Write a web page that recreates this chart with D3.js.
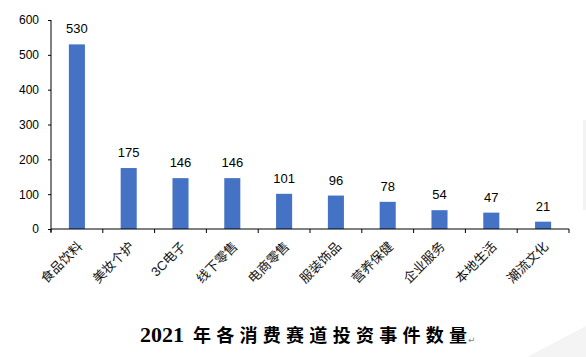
<!DOCTYPE html>
<html><head><meta charset="utf-8">
<script src="https://cdn.jsdelivr.net/npm/d3@7"></script>
<style>html,body{margin:0;padding:0;background:#fff;}svg{display:block;}</style>
</head><body>
<svg id="chart" width="586" height="357"></svg>
<script>
const categories = ["食品饮料","美妆个护","3C电子","线下零售","电商零售","服装饰品","营养保健","企业服务","本地生活","潮流文化"];
const values = [530,175,146,146,101,96,78,54,47,21];
const yTicks = [0,100,200,300,400,500,600];
const titleYear = "2021";
const titleText = "年各消费赛道投资事件数量";

const svg = d3.select("#chart");
svg.append("rect").attr("width",586).attr("height",357).attr("fill","#fff");
// faint page artifacts
svg.append("polygon").attr("points","527,357 586,326 586,357").attr("fill","#f4f4f4");
svg.append("rect").attr("x",583).attr("y",120).attr("width",3).attr("height",90).attr("fill","#f3f3f3");

const mLeft = 51, mRight = 569, mTop = 20, mBottom = 229;
const x = d3.scaleBand().domain(categories).range([mLeft, mRight]).paddingInner(0.69).paddingOuter(0.345);
const y = d3.scaleLinear().domain([0,600]).range([mBottom, mTop]);

// bars
svg.append("g").selectAll("rect").data(values).join("rect")
  .attr("x",(d,i)=>x(categories[i]))
  .attr("y",d=>y(d))
  .attr("width",x.bandwidth())
  .attr("height",d=>y(0)-y(d))
  .attr("fill","#4472C4");

// value labels
svg.append("g").selectAll("text").data(values).join("text")
  .attr("x",(d,i)=>x(categories[i])+x.bandwidth()/2)
  .attr("y",d=>y(d)-11)
  .attr("text-anchor","middle")
  .attr("font-family","'Liberation Sans', Arial, sans-serif")
  .attr("font-size",13)
  .attr("fill","#000")
  .text(d=>d);

// y axis
const ya = svg.append("g").attr("transform",`translate(${mLeft},0)`)
  .call(d3.axisLeft(y).tickValues(yTicks).tickSize(3).tickPadding(9).tickSizeOuter(0));
ya.select(".domain").attr("stroke","#000").attr("d",`M0,${mTop}V${mBottom+3}`);
ya.selectAll(".tick line").attr("stroke","#000");
ya.selectAll("text").attr("font-family","'Liberation Sans', Arial, sans-serif").attr("font-size",12).attr("fill","#000");

// x axis line and boundary ticks
const step = x.step();
const bounds = d3.range(categories.length+1).map(i=>x.range()[0]+i*step);
svg.append("line").attr("x1",mLeft).attr("x2",mRight).attr("y1",y(0)).attr("y2",y(0)).attr("stroke","#000");
svg.append("g").selectAll("line").data(bounds).join("line")
  .attr("x1",d=>d).attr("x2",d=>d).attr("y1",y(0)).attr("y2",y(0)+4).attr("stroke","#000");

// category labels
svg.append("g").selectAll("text").data(categories).join("text")
  .attr("transform",d=>`translate(${x(d)+x.bandwidth()/2+3},${y(0)+15}) rotate(-45)`)
  .attr("text-anchor","end")
  .attr("dy","0.35em")
  .attr("font-family","'Liberation Sans', 'Noto Sans CJK SC', sans-serif")
  .attr("font-size",13)
  .attr("fill","#111")
  .text(d=>d);

// title
svg.append("text").attr("x",140).attr("y",342)
  .attr("font-family","'Liberation Serif', serif").attr("font-weight","bold").attr("font-size",22)
  .attr("fill","#000").text(titleYear);
svg.append("text").attr("x",193).attr("y",342)
  .attr("font-family","'Noto Sans CJK SC', sans-serif").attr("font-weight","bold").attr("font-size",18)
  .attr("textLength",274).attr("lengthAdjust","spacing")
  .attr("fill","#000").text(titleText);
svg.append("text").attr("x",468).attr("y",343)
  .attr("font-family","'DejaVu Sans', sans-serif").attr("font-size",9)
  .attr("fill","#888").text("↵");
</script>
</body></html>
